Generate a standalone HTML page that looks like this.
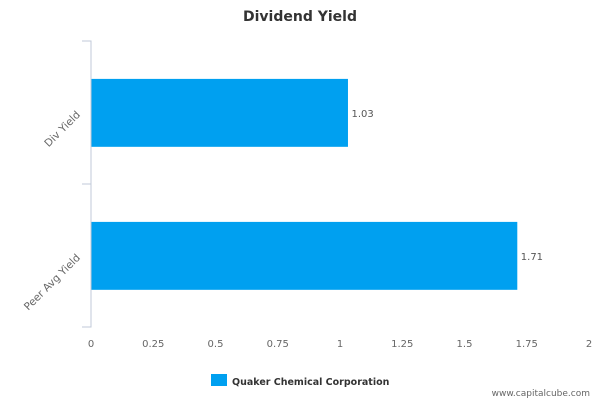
<!DOCTYPE html>
<html><head><meta charset="utf-8"><style>
body{margin:0;background:#fff;}
svg{display:block;font-family:"DejaVu Sans","Liberation Sans",sans-serif;}
</style></head><body>
<svg id="chart" width="600" height="400">
<text x="300" y="21" text-anchor="middle" font-size="14" font-weight="bold" fill="#333">Dividend Yield</text>
<g id="plot"></g>
<rect x="211" y="374" width="16" height="12" fill="#00a0f0"/>
<text x="232" y="385" font-size="9.5" font-weight="bold" fill="#333">Quaker Chemical Corporation</text>
<text x="590" y="396" text-anchor="end" font-size="9" fill="#666">www.capitalcube.com</text>
</svg>
<script>
const categories=["Div Yield","Peer Avg Yield"];
const values=[1.03,1.71];
const valueLabels=["1.03","1.71"];
const ticks=[0,0.25,0.5,0.75,1,1.25,1.5,1.75,2];
const tickLabels=["0","0.25","0.5","0.75","1","1.25","1.5","1.75","2"];
const NS="http://www.w3.org/2000/svg";
const g=document.getElementById("plot");
const x0=91,x1=589,yTop=41,yBot=327;
const xs=v=>x0+(v-0)/(2-0)*(x1-x0);
const band=(yBot-yTop)/categories.length;
function mk(t,a){const e=document.createElementNS(NS,t);for(const k in a)e.setAttribute(k,a[k]);g.appendChild(e);return e;}
let ax=mk("path",{d:`M82 ${yTop}H${x0}V${yBot}H82 M82 ${yTop+band}H${x0}`,stroke:"#c0cad8",fill:"none","stroke-width":1});


categories.forEach((c,i)=>{
  const yb=yTop+band*i+band*0.265, h=band*0.475;
  const r=mk("rect",{x:x0+0.5,y:yb,width:xs(values[i])-x0,height:h,fill:"#00a0f0"});
  
  
  const vl=mk("text",{x:xs(values[i])+4,y:yb+h/2+4,"font-size":10,fill:"#555"});
  vl.textContent=valueLabels[i];
  
  
  const cy=yTop+band*(i+0.5);
  const cl=mk("text",{x:78,y:cy+4,"text-anchor":"end","font-size":10.5,fill:"#666",transform:`rotate(-45 78 ${cy})`});
  cl.textContent=c;
  
  
});
ticks.forEach((t,i)=>{
  const tl=mk("text",{x:xs(t),y:347,"text-anchor":"middle","font-size":10,fill:"#666"});
  tl.textContent=tickLabels[i];
  
  
});
</script>
</body></html>
